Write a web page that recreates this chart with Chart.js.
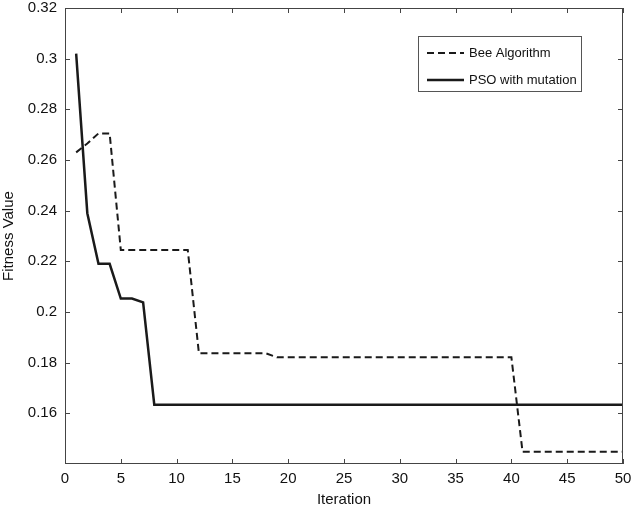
<!DOCTYPE html>
<html>
<head>
<meta charset="utf-8">
<script src="https://cdn.jsdelivr.net/npm/chart.js@4.4.1/dist/chart.umd.min.js"></script>
<style>
  html, body { margin: 0; padding: 0; background: #fff; }
  #wrap { width: 634px; height: 511px; position: relative; }
</style>
</head>
<body>
<div id="wrap"><canvas id="fitness_chart"></canvas></div>
<script>
    "use strict";
    var iterations = [1, 2, 3, 4, 5, 6, 7, 8, 9, 10,
        11, 12, 13, 14, 15, 16, 17, 18, 19, 20,
        21, 22, 23, 24, 25, 26, 27, 28, 29, 30,
        31, 32, 33, 34, 35, 36, 37, 38, 39, 40,
        41, 42, 43, 44, 45, 46, 47, 48, 49, 50];
    var beeAlgorithm = [0.263, 0.2665, 0.2705, 0.2705, 0.2245, 0.2245, 0.2245, 0.2245, 0.2245, 0.2245,
        0.2245, 0.1837, 0.1837, 0.1837, 0.1837, 0.1837, 0.1837, 0.1837, 0.1821, 0.1821,
        0.1821, 0.1821, 0.1821, 0.1821, 0.1821, 0.1821, 0.1821, 0.1821, 0.1821, 0.1821,
        0.1821, 0.1821, 0.1821, 0.1821, 0.1821, 0.1821, 0.1821, 0.1821, 0.1821, 0.1821,
        0.1448, 0.1448, 0.1448, 0.1448, 0.1448, 0.1448, 0.1448, 0.1448, 0.1448, 0.1448];
    var psoMutation = [0.302, 0.239, 0.219, 0.219, 0.2053, 0.2053, 0.2038, 0.1634, 0.1634, 0.1634,
        0.1634, 0.1634, 0.1634, 0.1634, 0.1634, 0.1634, 0.1634, 0.1634, 0.1634, 0.1634,
        0.1634, 0.1634, 0.1634, 0.1634, 0.1634, 0.1634, 0.1634, 0.1634, 0.1634, 0.1634,
        0.1634, 0.1634, 0.1634, 0.1634, 0.1634, 0.1634, 0.1634, 0.1634, 0.1634, 0.1634,
        0.1634, 0.1634, 0.1634, 0.1634, 0.1634, 0.1634, 0.1634, 0.1634, 0.1634, 0.1634];
    var xTicks = [0, 5, 10, 15, 20, 25, 30, 35, 40, 45, 50];
    var yTicks = [0.16, 0.18, 0.2, 0.22, 0.24, 0.26, 0.28, 0.3, 0.32];

    var toPoints = function(values) {
        return values.map(function(v, i) { return { x: iterations[i], y: v }; });
    };
    var font = '"Liberation Sans", Arial, sans-serif';

    // MATLAB-style box with inward ticks on all four sides, plus boxed legend
    var frame = {
        id: 'frame',
        afterDraw: function(chart) {
            var ctx = chart.ctx, a = chart.chartArea;
            var xs = chart.scales.x, ys = chart.scales.y;
            ctx.save();
            ctx.strokeStyle = '#444';
            ctx.lineWidth = 1;
            ctx.strokeRect(a.left + 0.5, a.top + 0.5, a.right - a.left - 1, a.bottom - a.top - 1);
            ctx.beginPath();
            xTicks.forEach(function(t) {
                var px = Math.round(xs.getPixelForValue(t)) + 0.5;
                ctx.moveTo(px, a.bottom); ctx.lineTo(px, a.bottom - 5);
                ctx.moveTo(px, a.top); ctx.lineTo(px, a.top + 5);
            });
            yTicks.forEach(function(t) {
                var py = Math.round(ys.getPixelForValue(t)) + 0.5;
                ctx.moveTo(a.left, py); ctx.lineTo(a.left + 5, py);
                ctx.moveTo(a.right, py); ctx.lineTo(a.right - 5, py);
            });
            ctx.stroke();

            // Legend
            var bx = 418.5, by = 36.5, bw = 163, bh = 55;
            ctx.fillStyle = '#fff';
            ctx.fillRect(bx, by, bw, bh);
            ctx.strokeStyle = '#555';
            ctx.strokeRect(bx, by, bw, bh);
            var order = [1, 0];
            order.forEach(function(di, k) {
                var ds = chart.data.datasets[di];
                var ly = 53 + k * 27;
                ctx.beginPath();
                ctx.strokeStyle = ds.borderColor;
                ctx.lineWidth = ds.borderWidth;
                ctx.setLineDash(ds.borderDash || []);
                ctx.moveTo(427, ly); ctx.lineTo(464, ly);
                ctx.stroke();
                ctx.setLineDash([]);
                ctx.fillStyle = '#111';
                ctx.font = '13px ' + font;
                ctx.textBaseline = 'middle';
                ctx.fillText(ds.label, 469, ly);
            });
            ctx.restore();
        }
    };

    new Chart(document.getElementById('fitness_chart').getContext('2d'), {
        type: 'line',
        data: {
            datasets: [
                { label: 'PSO with mutation', data: toPoints(psoMutation),
                  borderColor: '#1a1a1a', borderWidth: 2.5, pointRadius: 0, tension: 0, fill: false },
                { label: 'Bee Algorithm', data: toPoints(beeAlgorithm),
                  borderColor: '#1a1a1a', borderWidth: 2, borderDash: [7, 4], pointRadius: 0, tension: 0, fill: false }
            ]
        },
        options: {
            responsive: true,
            maintainAspectRatio: false,
            animation: false,
            layout: { padding: { top: 8, right: 11, left: 0, bottom: 0 } },
            plugins: { legend: { display: false }, tooltip: { enabled: false } },
            scales: {
                x: {
                    type: 'linear', min: 0, max: 50,
                    afterFit: function(s) { s.height = 47; s.paddingLeft = 0; s.paddingRight = 0; },
                    afterBuildTicks: function(s) { s.ticks = xTicks.map(function(v) { return { value: v }; }); },
                    grid: { display: false, drawTicks: false },
                    border: { display: false },
                    ticks: { color: '#111', font: { family: font, size: 15 }, padding: 6, maxRotation: 0, autoSkip: false },
                    title: { display: true, text: 'Iteration', color: '#111', font: { family: font, size: 15 }, padding: { top: 0, bottom: 2 } }
                },
                y: {
                    min: 0.14, max: 0.32,
                    afterFit: function(s) { s.width = 65; s.paddingTop = 0; s.paddingBottom = 0; },
                    afterBuildTicks: function(s) { s.ticks = yTicks.map(function(v) { return { value: v }; }); },
                    grid: { display: false, drawTicks: false },
                    border: { display: false },
                    ticks: { color: '#111', font: { family: font, size: 15 }, padding: 8,
                        callback: function(v) { return String(+v.toFixed(2)); } },
                    title: { display: true, text: 'Fitness Value', color: '#111', font: { family: font, size: 15 }, padding: { top: 0, bottom: 4 } }
                }
            }
        },
        plugins: [frame]
    });
</script>
</body>
</html>
